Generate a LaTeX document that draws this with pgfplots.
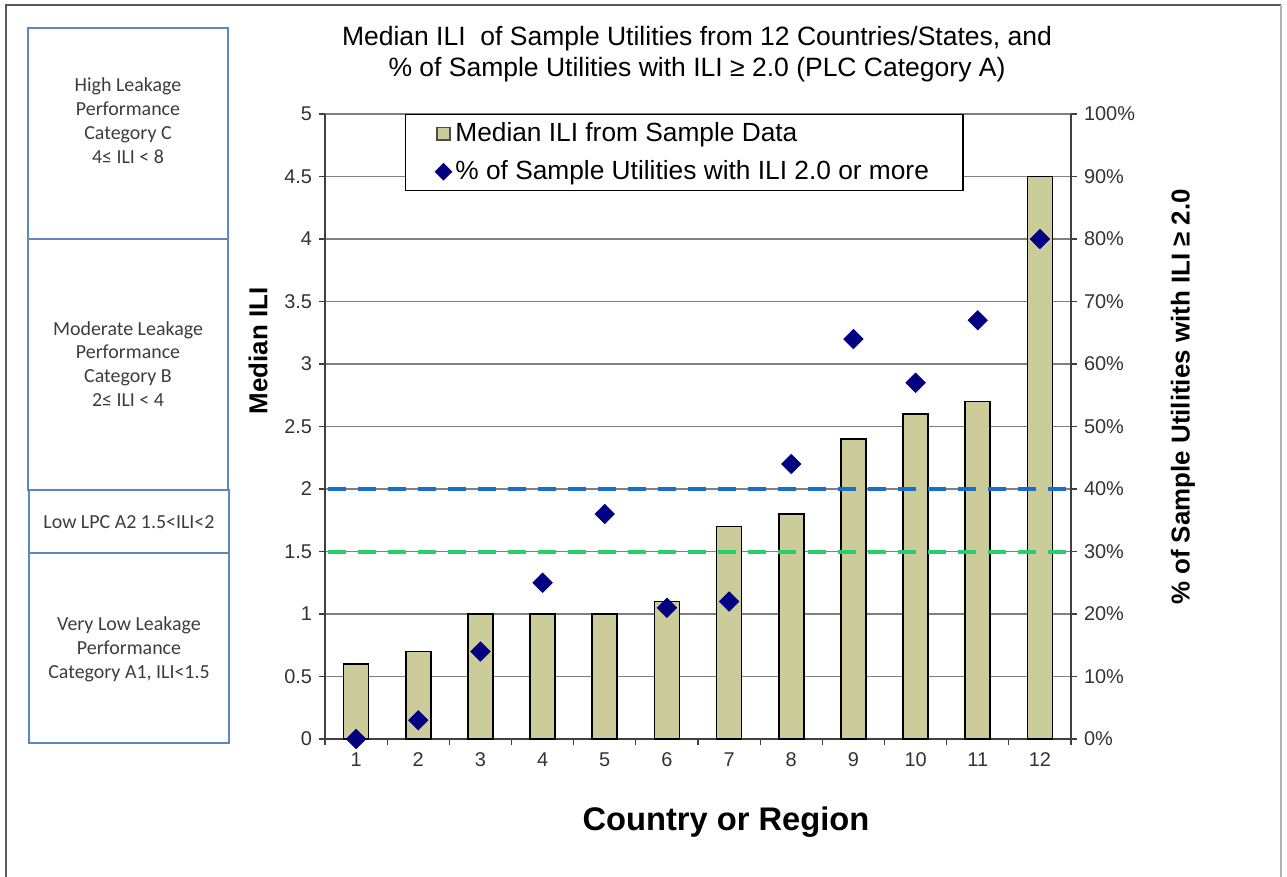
\documentclass[border=0pt]{standalone}
\usepackage{pgfplots}
\pgfplotsset{compat=1.18}
\usepackage{fontspec}
\setmainfont{Liberation Sans}
\newfontfamily\boxfont{Carlito}

\definecolor{barcol}{RGB}{204,204,154}
\definecolor{dotcol}{RGB}{0,0,128}
\definecolor{blueline}{RGB}{25,110,200}
\definecolor{greenline}{RGB}{40,205,110}
\definecolor{boxline}{RGB}{95,135,185}
\definecolor{boxtext}{RGB}{60,60,60}

\begin{document}
\begin{tikzpicture}
% page = 1287 x 877 px, 1 px = 0.5bp
\path[use as bounding box] (0bp,0bp) rectangle (643.5bp,-438.5bp);

\begin{scope}[x=0.5bp,y=-0.5bp]
  % outer frame
  \draw[black!65,line width=0.9bp] (6,877) -- (6,5) -- (1281,5);
  \draw[black!30,line width=0.7bp] (1281,5) -- (1281,877);
  % category boxes
  \draw[boxline,line width=0.8bp] (28,28) rectangle (228,239);
  \draw[boxline,line width=0.8bp] (28,239) rectangle (228,490);
  \draw[boxline,line width=0.8bp] (29,490) rectangle (229,553);
  \draw[boxline,line width=0.8bp] (29,553) rectangle (229,743);
  \begin{scope}[every node/.style={align=center,text=boxtext,
      font=\boxfont\fontsize{10}{12}\selectfont}]
    \node at (128,121) {High Leakage\\Performance\\Category C\\4≤ ILI < 8};
    \node at (128,364) {Moderate Leakage\\Performance\\Category B\\2≤ ILI < 4};
    \node at (129,522) {Low LPC A2 1.5<ILI<2};
    \node at (129,649) {Very Low Leakage\\Performance\\Category A1, ILI<1.5};
  \end{scope}
  % titles and axis labels
  \node[anchor=base,font=\fontsize{13.3}{15}\selectfont] at (697,45)
    {Median ILI\ \ of Sample Utilities from 12 Countries/States, and};
  \node[anchor=base,font=\fontsize{13.3}{15}\selectfont] at (697,77)
    {\% of Sample Utilities with ILI ≥ 2.0 (PLC Category A)};
  \node[rotate=90,font=\bfseries\fontsize{13}{15}\selectfont] at (258,351) {Median ILI};
  \node[rotate=90,font=\bfseries\fontsize{13}{15}\selectfont] at (1183,397)
    {\% of Sample Utilities with ILI ≥ 2.0};
  \node[font=\bfseries\fontsize{16.4}{19}\selectfont] at (726,822) {Country or Region};
\end{scope}

\pgfplotsset{
  every axis/.append style={
    scale only axis, width=373bp, height=312.5bp,
    at={(162.5bp,-369.5bp)}, anchor=south west,
    xmin=0.5, xmax=12.5,
    tick align=outside, major tick length=3bp,
    /pgf/number format/assume math mode=true,
    tick label style={font=\fontsize{10}{12}\selectfont, text=black!80},
    axis line style={black!75, line width=0.7bp},
    tick style={black!75, line width=0.6bp},
  },
}

\begin{axis}[
  ymin=0, ymax=5,
  axis y line*=left, axis x line*=bottom,
  ytick={0,0.5,...,5},
  yticklabel style={/pgf/number format/fixed},
  xtick={0.5,1.5,...,12.5}, xticklabels={},
  extra x ticks={1,2,...,12},
  extra x tick labels={1,2,3,4,5,6,7,8,9,10,11,12},
  extra x tick style={major tick length=0pt, xticklabel style={yshift=-3.5bp}},
  ymajorgrids, grid style={black!50, line width=0.6bp},
]
  \addplot[ybar, bar width=12.5bp, fill=barcol, draw=black, line width=0.8bp]
    coordinates {(1,0.6) (2,0.7) (3,1.0) (4,1.0) (5,1.0) (6,1.1)
                 (7,1.7) (8,1.8) (9,2.4) (10,2.6) (11,2.7) (12,4.5)};
  \addplot[blueline, line width=2bp, dash pattern=on 9bp off 6bp, dash phase=-1.5bp]
    coordinates {(0.5,2) (12.5,2)};
  \addplot[greenline, line width=2bp, dash pattern=on 9bp off 6bp, dash phase=-1.5bp]
    coordinates {(0.5,1.5) (12.5,1.5)};
\end{axis}

\begin{axis}[
  ymin=0, ymax=100,
  axis y line*=right, axis x line=none,
  ytick={0,10,...,100},
  yticklabel={\pgfmathprintnumber{\tick}\%},
  legend cell align=left,
  legend style={at={(0.107,1)}, anchor=north west, draw=black, fill=white,
    line width=0.7bp, font=\fontsize{13.2}{15}\selectfont,
    inner xsep=15bp, inner ysep=2bp, row sep=4bp,
    /tikz/every even column/.append style={column sep=2bp}},
]
  \addlegendimage{legend image code/.code={
      \draw[fill=barcol, draw=black!70, line width=0.7bp] (0bp,-3.2bp) rectangle (6.4bp,3.2bp);}}
  \addlegendentry{Median ILI from Sample Data}
  \addplot[only marks, mark=square*, mark size=3.4bp, mark options={rotate=45, fill=dotcol, draw=dotcol},
    legend image code/.code={\draw[mark options={rotate=45,fill=dotcol,draw=dotcol}] plot[mark=square*, mark size=2.8bp] coordinates {(3.2bp,0bp)};}]
    coordinates {(1,0) (2,3) (3,14) (4,25) (5,36) (6,21)
                 (7,22) (8,44) (9,64) (10,57) (11,67) (12,80)};
  \addlegendentry{\% of Sample Utilities with ILI 2.0 or more}
\end{axis}
\end{tikzpicture}
\end{document}
